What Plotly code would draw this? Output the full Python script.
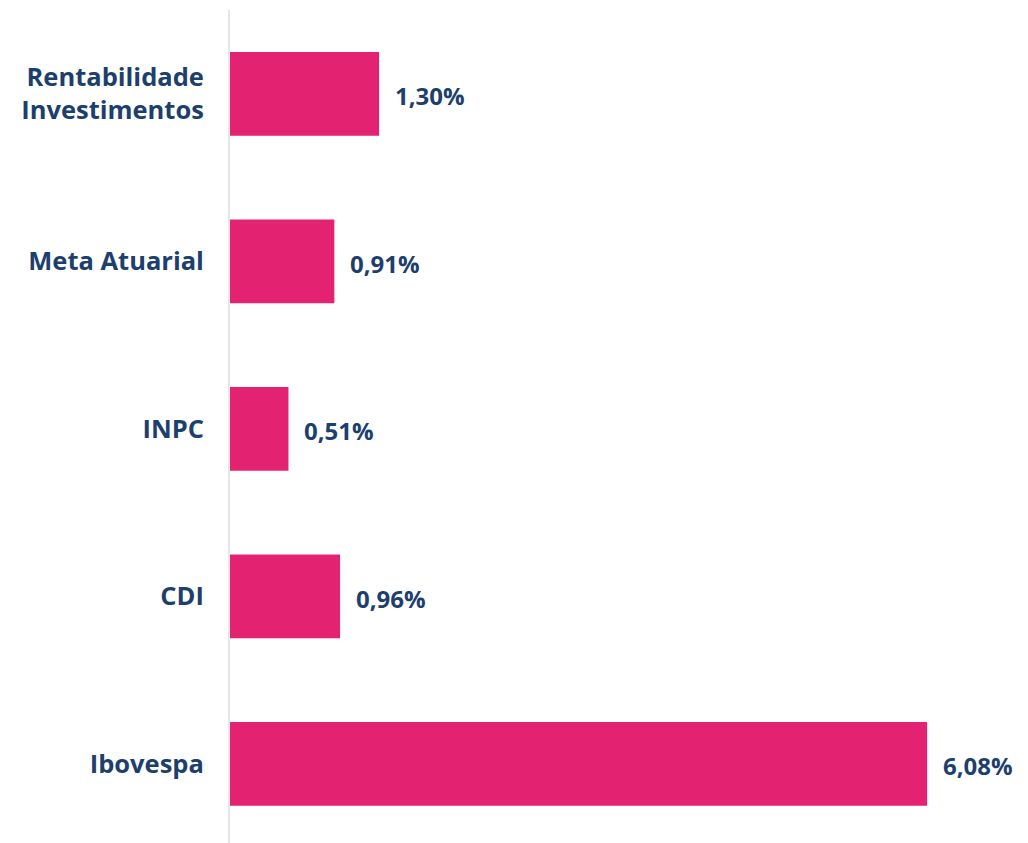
import plotly.graph_objects as go

categories = ["Rentabilidade<br>Investimentos", "Meta Atuarial", "INPC", "CDI", "Ibovespa"]
values = [1.30, 0.91, 0.51, 0.96, 6.08]
labels = ["1,30%", "0,91%", "0,51%", "0,96%", "6,08%"]

navy = "#1D3F6E"
pink = "#E42272"

fig = go.Figure(go.Bar(
    x=values, y=categories, orientation="h",
    marker=dict(color=pink, line=dict(width=0)),
    width=0.5, hoverinfo="skip",
))

for c, v, t in zip(categories, values, labels):
    fig.add_annotation(x=v, y=c, text=t, showarrow=False, xanchor="left",
                       xshift=14, yshift=-2,
                       font=dict(family="Open Sans", size=24, color=navy, weight="bold"))

fig.update_layout(
    width=1020, height=835,
    margin=dict(l=222, r=0, t=2, b=0),
    paper_bgcolor="white", plot_bgcolor="white",
    showlegend=False,
    font=dict(family="Open Sans", color=navy),
    xaxis=dict(range=[0, 6.96], visible=False, showgrid=False, zeroline=False),
    yaxis=dict(range=[4.473, -0.5], showgrid=False, zeroline=False,
               showline=True, linecolor="#E6E6E6", linewidth=2,
               ticks="", ticklabelstandoff=19,
               tickfont=dict(family="Open Sans", size=25.5, color=navy, weight="bold")),
)

fig.write_html("out.html")
